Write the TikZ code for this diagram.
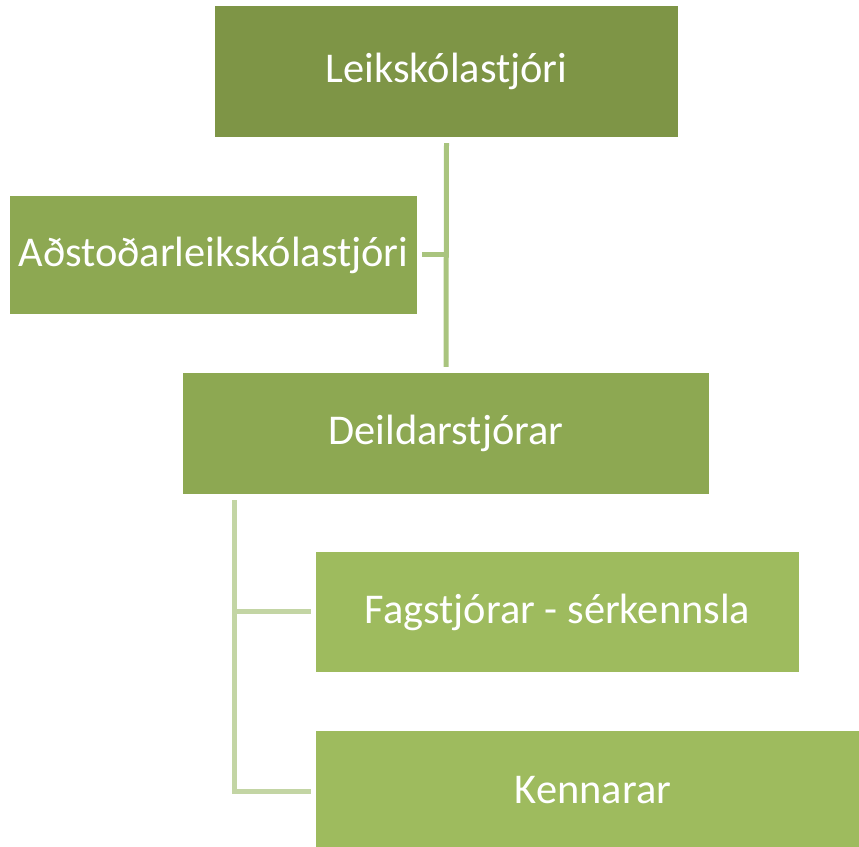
\documentclass[tikz,border=0pt]{standalone}
\usepackage{fontspec}
\setmainfont{Carlito}
\definecolor{olivetop}{RGB}{126,149,70}
\definecolor{olivemid}{RGB}{141,168,82}
\definecolor{olivelow}{RGB}{158,187,94}
\definecolor{linetop}{RGB}{169,196,126}
\definecolor{linelow}{RGB}{195,213,164}
\tikzset{
  orgbox/.style={rectangle,draw=none,inner sep=0pt,text=white,
    font=\fontsize{42.4bp}{50bp}\selectfont},
  orgline/.style={line width=5bp},
}
\begin{document}
\begin{tikzpicture}[line join=miter,]
%%
\useasboundingbox (0bp,0bp) rectangle (859bp,847bp);
\node (leik) at (446.5bp,775.5bp) [orgbox,fill=olivetop,minimum width=463bp,minimum height=131bp] {Leikskólastjóri};
  \node (adst) at (213.5bp,592bp) [orgbox,fill=olivemid,minimum width=407bp,minimum height=118bp] {Aðstoðarleikskólastjóri};
  \node (deild) at (446bp,413.5bp) [orgbox,fill=olivemid,minimum width=526bp,minimum height=121bp] {Deildarstjórar};
  \node (fag) at (557.5bp,235bp) [orgbox,fill=olivelow,minimum width=483bp,minimum height=120bp] {Fagstjórar - sérkennsla};
  \node (kenn) at (593bp,57bp) [orgbox,fill=olivelow,minimum width=554bp,minimum height=118bp] {Kennarar};
%
\coordinate (lx) at (234bp,0bp);
  \draw [linetop,orgline] ([yshift=-6bp]leik.south) -- ([yshift=6bp]deild.north);
  \draw [linetop,orgline] ([xshift=5bp]adst.east) -- (adst.east -| leik.south);
  \draw [linelow,orgline] ([yshift=-6bp]deild.south -| lx) |- ([xshift=-5bp]fag.west);
  \draw [linelow,orgline] ([yshift=-6bp]deild.south -| lx) |- ([xshift=-5bp,yshift=-2bp]kenn.west);
%
\end{tikzpicture}
\end{document}
